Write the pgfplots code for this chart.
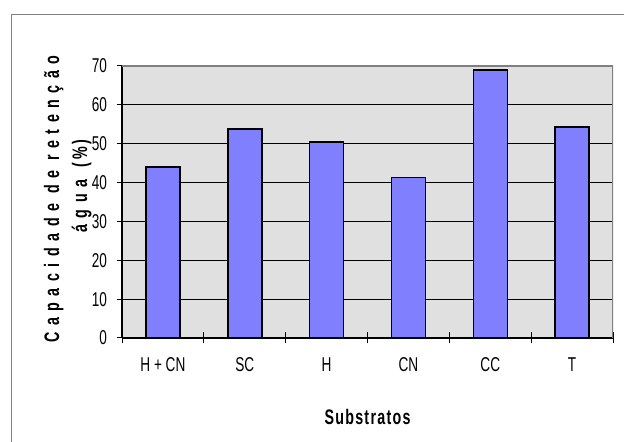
\documentclass[border=0pt]{standalone}
\usepackage{fontspec}
\setmainfont{Liberation Sans}[FakeStretch=0.68]
\newfontfamily\ylabfont{Liberation Sans}[FakeStretch=0.68, LetterSpace=31]
\newfontfamily\xlabfont{Liberation Sans}[FakeStretch=0.68, LetterSpace=6]
\usepackage{pgfplots}
\pgfplotsset{compat=1.18}
\definecolor{barblue}{HTML}{8080FF}
\definecolor{plotbg}{HTML}{E0E0E0}
\definecolor{framegray}{HTML}{808080}

\pgfplotstableread{
x  val
0  44.0
1  53.8
2  50.5
3  41.3
4  69.0
5  54.3
}\retencao

\begin{document}
\begin{tikzpicture}[x=1bp,y=1bp]
\useasboundingbox (0,0) rectangle (624,442);
\fill[white] (0,0) rectangle (624,442);
\draw[framegray, line width=1bp] (11,-5) -- (11,427) -- (630,427);

\begin{axis}[
  at={(122bp,104bp)}, anchor=south west,
  width=491bp, height=272bp, scale only axis,
  xmin=-0.5, xmax=5.5, ymin=0, ymax=70,
  axis background/.style={fill=plotbg},
  axis x line*=bottom, axis y line*=left,
  axis line style={-, black, line width=1.2bp},
  ybar=0pt, bar width=34bp,
  ytick={0,10,...,70},
  xtick={-0.5,0.5,...,5.5},
  xticklabels={},
  extra x ticks={0,1,2,3,4,5},
  extra x tick labels={H + CN,SC,H,CN,CC,T},
  extra x tick style={major tick length=0pt, grid=none},
  tick align=center,
  major tick length=11bp,
  tick style={black, line width=1bp},
  ymajorgrids,
  grid style={black, line width=0.8bp},
  /pgf/number format/assume math mode=true,
  tick label style={font=\fontsize{20bp}{24bp}\selectfont},
  yticklabel style={xshift=-6bp},
  xticklabel style={yshift=-16bp},
  xlabel={\xlabfont\bfseries Substratos},
  xlabel style={at={(axis description cs:0.5,0)}, anchor=base, yshift=-87bp,
    font=\fontsize{21bp}{24bp}\selectfont},
]
\addplot[fill=barblue, draw=black, line width=1.5bp] table[x=x, y=val] {\retencao};
\draw[framegray, line width=2bp] (rel axis cs:0,1) -- (rel axis cs:1,1) -- (rel axis cs:1,0);
\end{axis}

\node[rotate=90, anchor=base, inner sep=0pt, font=\fontsize{21bp}{24bp}\ylabfont\bfseries]
  at (59,243) {Capacidade\hspace{10bp}de\hspace{10bp}retenção};
\node[rotate=90, anchor=base, inner sep=0pt, font=\fontsize{21bp}{24bp}\ylabfont\bfseries]
  at (87,256) {água\hspace{12bp}(\hspace{3bp}\%\hspace{3bp})};
\end{tikzpicture}
\end{document}
